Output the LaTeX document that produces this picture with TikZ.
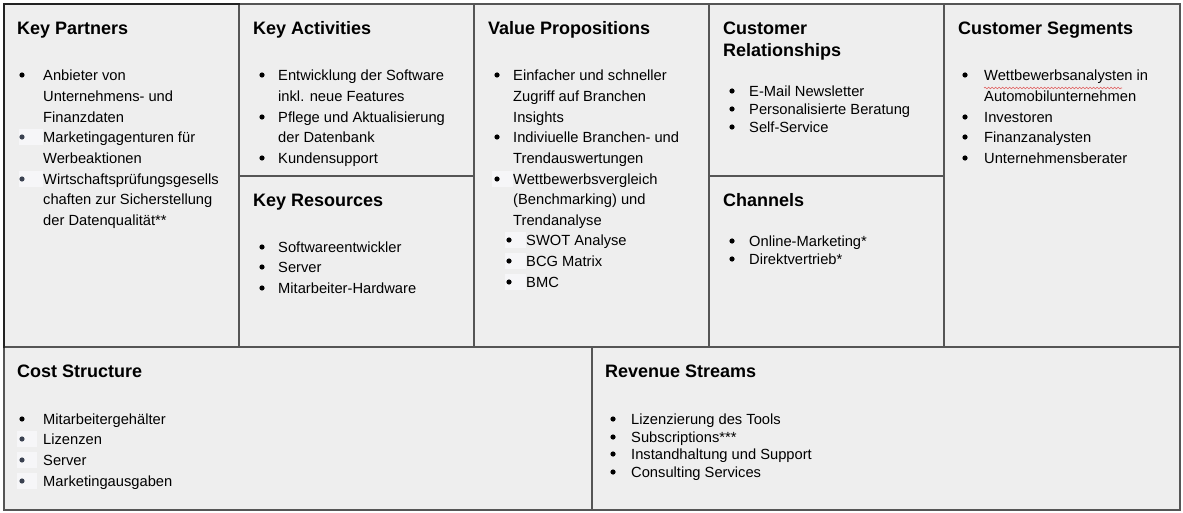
\documentclass[tikz,border=0pt]{standalone}
\usepackage{fontspec}
\setmainfont{Liberation Sans}
\usetikzlibrary{decorations.pathmorphing}

\definecolor{cell}{HTML}{EEEEEE}
\definecolor{rule}{HTML}{555555}
\definecolor{darkrule}{HTML}{222222}
\definecolor{hl}{HTML}{F6F6F8}
\definecolor{dotgray}{HTML}{3A4150}
\definecolor{spell}{HTML}{E05A5A}

\tikzset{
  cellbox/.style={fill=cell, draw=rule, line width=1.3pt},
  title/.style={anchor=base west, inner sep=0pt, font=\fontsize{18}{20}\selectfont\bfseries},
  body/.style={anchor=base west, inner sep=0pt, font=\fontsize{14.7}{17}\selectfont},
  hlbox/.style={fill=hl, draw=none},
}

% running counter so that every text node gets its own name
\newcount\cvn
\newcommand{\cvhead}[3]{\global\advance\cvn by 1 \node[title] (h\the\cvn) at (#1,{#2+6.4}) {#3};}
\newcommand{\cventry}[3]{\global\advance\cvn by 1 \node[body] (t\the\cvn) at (#1,{#2+5.3}) {#3};}
\newcommand{\cvdot}[3][black]{\fill[#1] (#2,#3) circle (2.6);}
\newcommand{\cvhl}[3]{\fill[hlbox] (#1,{#3-8}) rectangle (#2,{#3+8});}

\begin{document}
\begin{tikzpicture}[x=1pt, y=-1pt]
\useasboundingbox (0,0) rectangle (1183,513);

% ---- canvas cells ----
\draw[cellbox] (4,4) rectangle (239,347);      % Key Partners
\draw[cellbox] (239,4) rectangle (474,176);    % Key Activities
\draw[cellbox] (239,176) rectangle (474,347);  % Key Resources
\draw[cellbox] (474,4) rectangle (709,347);    % Value Propositions
\draw[cellbox] (709,4) rectangle (944,176);    % Customer Relationships
\draw[cellbox] (709,176) rectangle (944,347);  % Channels
\draw[cellbox] (944,4) rectangle (1180,347);   % Customer Segments
\draw[cellbox] (4,347) rectangle (592,510);    % Cost Structure
\draw[cellbox] (592,347) rectangle (1180,510); % Revenue Streams
% darker outer edge of the first cell
\draw[darkrule, line width=1.3pt, line cap=rect] (4,347) -- (4,4) -- (239,4);

% ---- Key Partners ----
\cvhead{17}{28}{Key Partners}
\cvdot{22}{75}
\cventry{43}{75}{Anbieter von}
\cventry{43}{96}{Unternehmens- und}
\cventry{43}{117}{Finanzdaten}
\cvhl{19}{43}{137}
\cvdot[dotgray]{22}{137}
\cventry{43}{137}{Marketingagenturen für}
\cventry{43}{158}{Werbeaktionen}
\cvhl{19}{43}{179}
\cvdot[dotgray]{22}{179}
\cventry{43}{179}{Wirtschaftsprüfungsgesells}
\cventry{43}{199}{chaften zur Sicherstellung}
\cventry{43}{220}{der Datenqualität**}

% ---- Key Activities ----
\cvhead{253}{28}{Key Activities}
\cvdot{262}{75}
\cventry{278}{75}{Entwicklung der Software}
\cventry{278}{96}{inkl. neue Features}
\cvdot{262}{117}
\cventry{278}{117}{Pflege und Aktualisierung}
\cventry{278}{137}{der Datenbank}
\cvdot{262}{158}
\cventry{278}{158}{Kundensupport}

% ---- Key Resources ----
\cvhead{253}{200}{Key Resources}
\cvdot{262}{247}
\cventry{278}{247}{Softwareentwickler}
\cvdot{262}{267}
\cventry{278}{267}{Server}
\cvdot{262}{288}
\cventry{278}{288}{Mitarbeiter-Hardware}

% ---- Value Propositions ----
\cvhead{488}{28}{Value Propositions}
\cvdot{497}{75}
\cventry{513}{75}{Einfacher und schneller}
\cventry{513}{96}{Zugriff auf Branchen}
\cventry{513}{117}{Insights}
\cvdot{497}{137}
\cventry{513}{137}{Indiviuelle Branchen- und}
\cventry{513}{158}{Trendauswertungen}
\cvhl{492}{513}{179}
\cvdot{497}{179}
\cventry{513}{179}{Wettbewerbsvergleich}
\cventry{513}{199}{(Benchmarking) und}
\cventry{513}{220}{Trendanalyse}
\cvhl{505}{526}{240}
\cvdot{509}{240}
\cventry{526}{240}{SWOT Analyse}
\cvhl{505}{526}{261}
\cvdot{509}{261}
\cventry{526}{261}{BCG Matrix}
\cvhl{505}{526}{282}
\cvdot{509}{282}
\cventry{526}{282}{BMC}

% ---- Customer Relationships ----
\cvhead{723}{28}{Customer}
\cvhead{723}{50}{Relationships}
\cvdot{732}{91}
\cventry{749}{91}{E-Mail Newsletter}
\cvdot{732}{109}
\cventry{749}{109}{Personalisierte Beratung}
\cvdot{732}{127}
\cventry{749}{127}{Self-Service}

% ---- Channels ----
\cvhead{723}{200}{Channels}
\cvdot{732}{241}
\cventry{749}{241}{Online-Marketing*}
\cvdot{732}{259}
\cventry{749}{259}{Direktvertrieb*}

% ---- Customer Segments ----
\cvhead{958}{28}{Customer Segments}
\cvdot{965}{75}
\cventry{984}{75}{Wettbewerbsanalysten in}
\draw[spell, line width=0.6pt, decorate, decoration={snake, amplitude=0.8pt, segment length=3.5pt}] (984,88) -- (1122,88);
\cventry{984}{96}{Automobilunternehmen}
\cvdot{965}{117}
\cventry{984}{117}{Investoren}
\cvdot{965}{137}
\cventry{984}{137}{Finanzanalysten}
\cvdot{965}{158}
\cventry{984}{158}{Unternehmensberater}

% ---- Cost Structure ----
\cvhead{17}{371}{Cost Structure}
\cvdot{22}{419}
\cventry{43}{419}{Mitarbeitergehälter}
\cvhl{17}{37}{439}
\cvdot[dotgray]{22}{439}
\cventry{43}{439}{Lizenzen}
\cvhl{17}{37}{460}
\cvdot[dotgray]{22}{460}
\cventry{43}{460}{Server}
\cvhl{17}{37}{481}
\cvdot[dotgray]{22}{481}
\cventry{43}{481}{Marketingausgaben}

% ---- Revenue Streams ----
\cvhead{605}{371}{Revenue Streams}
\cvdot{613}{419}
\cventry{631}{419}{Lizenzierung des Tools}
\cvdot{613}{437}
\cventry{631}{437}{Subscriptions***}
\cvdot{613}{454}
\cventry{631}{454}{Instandhaltung und Support}
\cvdot{613}{472}
\cventry{631}{472}{Consulting Services}
\end{tikzpicture}
\end{document}
